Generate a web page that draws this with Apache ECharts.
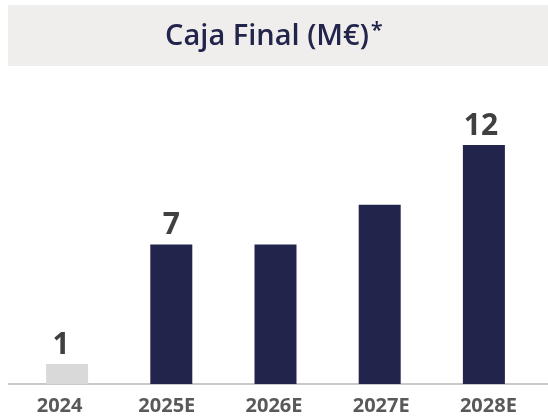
<!DOCTYPE html>
<html><head><meta charset="utf-8">
<script src="https://cdn.jsdelivr.net/npm/echarts@6/dist/echarts.min.js"></script>
<style>html,body{margin:0;padding:0;background:#fff}#c{width:548px;height:419px}</style>
</head><body><div id="c"></div>
<script>
const categories = ['2024', '2025E', '2026E', '2027E', '2028E'];
const values = [1, 7, 7, 9, 12];
const valueLabels = ['1', '7', '', '', '12'];
const barColors = ['#d9d9d9', '#22244b', '#22244b', '#22244b', '#22244b'];
const labelShift = [-6, 0, 0, 0, -3];

const chart = echarts.init(document.getElementById('c'));
chart.setOption({
  animation: false,
  backgroundColor: '#ffffff',
  graphic: [
    { type: 'rect', shape: { x: 8, y: 5, width: 540, height: 61 }, style: { fill: '#efeeed' }, z: 0 },
    { type: 'rect', shape: { x: 8, y: 383, width: 540, height: 2 }, style: { fill: '#c9c9c9' }, z: 1 }
  ],
  title: {
    text: '{a|Caja Final (M€)}{b|*}',
    left: 'center',
    top: 15,
    textStyle: {
      rich: {
        a: { fontFamily: 'Open Sans', fontWeight: 600, fontSize: 29, color: '#22244b' },
        b: { fontFamily: 'Open Sans', fontWeight: 600, fontSize: 22, color: '#22244b', padding: [0, 0, 12, 2] }
      }
    }
  },
  grid: [
    { left: 15, right: 12, top: 145, bottom: 35, containLabel: false },
    { left: 6, right: 6, top: 145, bottom: 35, containLabel: false }
  ],
  xAxis: [{
    type: 'category',
    gridIndex: 0,
    data: categories,
    axisLine: { show: false },
    axisTick: { show: false },
    axisLabel: { show: false }
  }, {
    type: 'category',
    gridIndex: 1,
    data: categories,
    axisLine: { show: false },
    axisTick: { show: false },
    axisLabel: { color: '#595959', fontFamily: 'Open Sans', fontWeight: 700, fontSize: 20, margin: 12 }
  }],
  yAxis: [
    { type: 'value', gridIndex: 0, min: 0, max: 12, show: false, splitLine: { show: false } },
    { type: 'value', gridIndex: 1, min: 0, max: 12, show: false, splitLine: { show: false } }
  ],
  series: [{
    type: 'bar',
    xAxisIndex: 0,
    yAxisIndex: 0,
    data: values.map((v, i) => ({ value: v, itemStyle: { color: barColors[i] }, label: { offset: [labelShift[i], 0] } })),
    barWidth: 42,
    label: {
      show: true,
      position: 'top',
      distance: 4,
      color: '#404040',
      fontFamily: 'Open Sans',
      fontWeight: 700,
      fontSize: 30,
      formatter: p => valueLabels[p.dataIndex]
    }
  }]
});
</script></body></html>
